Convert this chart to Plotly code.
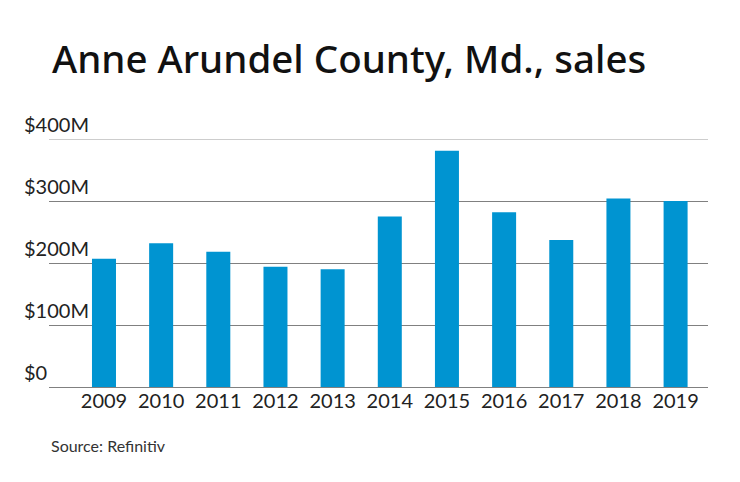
import plotly.graph_objects as go

years = ["2009", "2010", "2011", "2012", "2013", "2014", "2015", "2016", "2017", "2018", "2019"]
sales_musd = [207, 232, 218, 194, 190, 275, 381, 282, 237, 304, 300]
tick_vals = [0, 100, 200, 300, 400]
tick_text = ["$0", "$100M", "$200M", "$300M", "$400M"]
title_text = "Anne Arundel County, Md., sales"
source_text = "Source: Refinitiv"

OFF = 8  # page body margin
W, H = 740 - OFF, 482 - OFF
L, R, T, B = 48.7 - OFF, 32.3, 139 - OFF, 95

fig = go.Figure()
fig.add_trace(go.Bar(
    x=list(range(len(years))), y=sales_musd,
    marker=dict(color="#0094d1", line=dict(width=0)),
    width=0.42, hoverinfo="skip",
))

fig.update_layout(
    width=W, height=H,
    margin=dict(l=L, r=R, t=T, b=B, pad=0),
    paper_bgcolor="white", plot_bgcolor="white",
    showlegend=False,
    font=dict(family="Lato", color="#222222"),
    title=dict(
        text=title_text, x=(52 - OFF) / W, xanchor="left", xref="container",
        y=1 - (60 - OFF) / H, yanchor="middle", yref="container",
        font=dict(family="Noto Sans", size=38.5, color="#111111", weight=500),
    ),
    xaxis=dict(
        range=[-0.962, 10.567], tickmode="array",
        tickvals=list(range(len(years))), ticktext=years,
        showgrid=False, zeroline=False, showline=False, ticks="",
        tickfont=dict(size=20, color="#222222"), fixedrange=True,
    ),
    yaxis=dict(
        range=[0, 400], tickvals=tick_vals, showticklabels=False,
        showgrid=True, gridcolor="#808080", gridwidth=1,
        zeroline=True, zerolinecolor="#808080", zerolinewidth=1,
        showline=False, ticks="", fixedrange=True,
    ),
)

# lighter top gridline
fig.add_shape(type="line", xref="paper", yref="y", x0=0, x1=1, y0=tick_vals[-1], y1=tick_vals[-1],
              line=dict(color="#bdbdbd", width=1.5))

for v, t in zip(tick_vals, tick_text):
    fig.add_annotation(
        text=t, xref="paper", yref="y", x=0, y=v, xshift=-27, yshift=1,
        xanchor="left", yanchor="bottom", showarrow=False,
        font=dict(family="Lato", size=20, color="#222222"),
    )

fig.add_annotation(
    text=source_text, xref="paper", yref="paper",
    x=0, y=-(445.5 - (482 - 95)) / (482 - 139 - 95), xanchor="left", yanchor="middle",
    showarrow=False, font=dict(family="Lato", size=16, color="#333333"),
)

fig.write_html("out.html")
